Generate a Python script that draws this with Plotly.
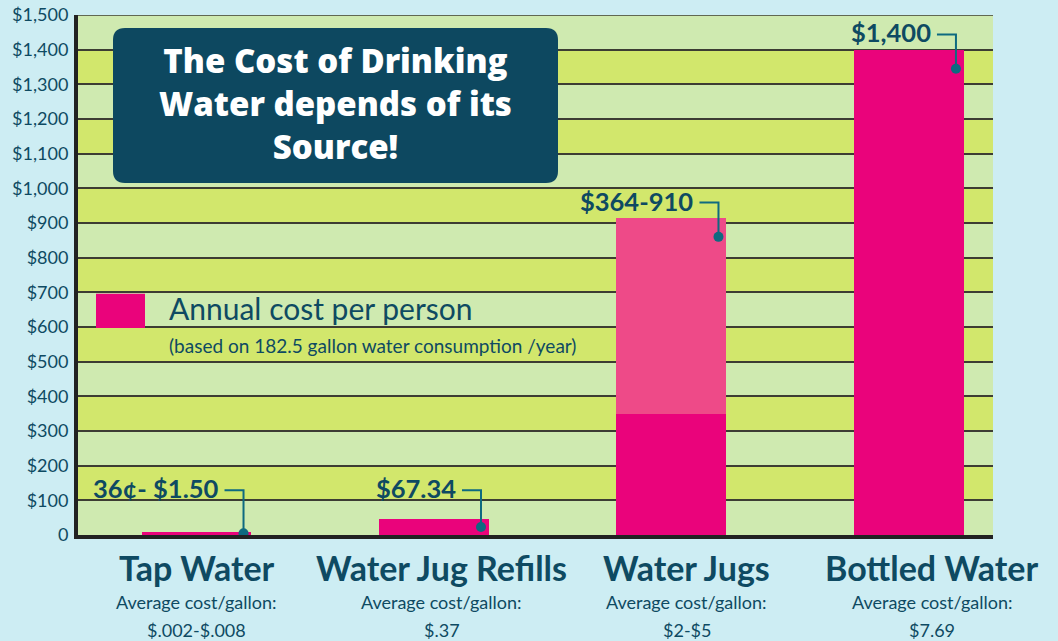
import plotly.graph_objects as go

# ---------------- data ----------------
categories = ["Tap Water", "Water Jug Refills", "Water Jugs", "Bottled Water"]
cost_low = [10, 46, 350, 1400]      # solid bar (annual cost, drawn)
cost_high = [10, 46, 915, 1400]     # top of range (annual cost, drawn)
callout_text = ["36¢- $1.50", "$67.34", "$364-910", "$1,400"]
gallon_cost = ["$.002-$.008", "$.37", "$2-$5", "$7.69"]
y_tickvals = [0, 100, 200, 300, 400, 500, 600, 700, 800, 900, 1000, 1100, 1200, 1300, 1400, 1500]
y_ticktext = ["0", "$100", "$200", "$300", "$400", "$500", "$600", "$700", "$800",
              "$900", "$1,000", "$1,100", "$1,200", "$1,300", "$1,400", "$1,500"]
title_lines = ["The Cost of Drinking", "Water depends of its", "Source!"]

# ---------------- styles ----------------
PAGE_BG = "#cdedf3"
BAND_LIGHT = "#cfeab0"
BAND_BRIGHT = "#d2e76c"
GRID = "#3d3d33"
PINK = "#ea037b"
PINK_LIGHT = "#ee4a88"
DARK = "#0e4a62"
TEAL = "#0e6a80"
FONT = "Lato"

idx = list(range(len(categories)))
BAR_W = 0.463
DOT_DX = 0.198
SEG = 0.08
LABEL_SPREAD = 1.0325

fig = go.Figure()

fig.add_trace(go.Bar(x=idx, y=cost_low, width=BAR_W, marker=dict(color=PINK, line=dict(width=0)),
                     hoverinfo="skip", showlegend=False))
fig.add_trace(go.Bar(x=idx, y=[h - l for h, l in zip(cost_high, cost_low)], width=BAR_W,
                     marker=dict(color=PINK_LIGHT, line=dict(width=0)),
                     hoverinfo="skip", showlegend=False))

shapes = []
# alternating background bands
for v in range(100, 1500, 200):
    shapes.append(dict(type="rect", xref="paper", yref="y", x0=0, x1=1, y0=v, y1=v + 100,
                       fillcolor=BAND_BRIGHT, line=dict(width=0), layer="below"))
# top line
shapes.append(dict(type="line", xref="paper", yref="y", x0=0, x1=1, y0=1500, y1=1500,
                   line=dict(color=GRID, width=1.5)))

# title box (rounded rectangle in paper coords)
PW, PH = 915.0, 520.0
bx0, bx1 = 35 / PW, 480 / PW
by0, by1 = 352 / PH, 507 / PH
rx, ry = 12 / PW, 12 / PH
path = (f"M {bx0+rx},{by1} L {bx1-rx},{by1} Q {bx1},{by1} {bx1},{by1-ry} "
        f"L {bx1},{by0+ry} Q {bx1},{by0} {bx1-rx},{by0} "
        f"L {bx0+rx},{by0} Q {bx0},{by0} {bx0},{by0+ry} "
        f"L {bx0},{by1-ry} Q {bx0},{by1} {bx0+rx},{by1} Z")
shapes.append(dict(type="path", xref="paper", yref="paper", path=path,
                   fillcolor="#0d4860", line=dict(width=0), layer="above"))

# legend square
shapes.append(dict(type="rect", xref="paper", yref="y", x0=18 / PW, x1=67 / PW, y0=597, y1=696,
                   fillcolor=PINK, line=dict(width=0), layer="above"))

annotations = []
annotations.append(dict(xref="paper", yref="paper", x=(bx0 + bx1) / 2, y=(by0 + by1) / 2,
                        yshift=2, text="<br>".join(title_lines),
                        showarrow=False, xanchor="center", yanchor="middle", align="center",
                        font=dict(family="Open Sans", size=33, color="white", weight=800)))
annotations.append(dict(xref="paper", yref="paper", x=89 / PW, y=227 / PH,
                        text="Annual cost per person", showarrow=False,
                        xanchor="left", yanchor="middle",
                        font=dict(family=FONT, size=30, color=DARK)))
annotations.append(dict(xref="paper", yref="paper", x=89 / PW, y=190 / PH,
                        text="(based on 182.5 gallon water consumption /year)", showarrow=False,
                        xanchor="left", yanchor="middle",
                        font=dict(family=FONT, size=19, color=DARK)))

# callouts
for i in idx:
    top = cost_high[i]
    ly = max(top, 85) + 44
    dy = top - min(top / 2, 55)
    xd = i + DOT_DX
    fig.add_trace(go.Scatter(x=[xd - SEG, xd, xd], y=[ly, ly, dy], mode="lines",
                             line=dict(color=TEAL, width=2), hoverinfo="skip", showlegend=False))
    fig.add_trace(go.Scatter(x=[xd], y=[dy], mode="markers",
                             marker=dict(color=TEAL, size=10), hoverinfo="skip", showlegend=False))
    annotations.append(dict(xref="x", yref="y", x=xd - SEG, y=ly, text=f"<b>{callout_text[i]}</b>",
                            showarrow=False, xanchor="right", yanchor="middle", xshift=-4, yshift=2,
                            font=dict(family=FONT, size=25.5, color=DARK)))

# category labels
for i in idx:
    lx = i * LABEL_SPREAD
    annotations.append(dict(xref="x", yref="paper", x=lx, y=0, yshift=-32,
                            text=f"<b>{categories[i]}</b>", showarrow=False,
                            xanchor="center", yanchor="middle",
                            font=dict(family=FONT, size=34, color=DARK, weight=900)))
    annotations.append(dict(xref="x", yref="paper", x=lx, y=0, yshift=-67,
                            text="Average cost/gallon:", showarrow=False,
                            xanchor="center", yanchor="middle",
                            font=dict(family=FONT, size=18, color=DARK)))
    annotations.append(dict(xref="x", yref="paper", x=lx, y=0, yshift=-95,
                            text=gallon_cost[i], showarrow=False,
                            xanchor="center", yanchor="middle",
                            font=dict(family=FONT, size=18, color=DARK)))

fig.update_layout(
    width=1058, height=641,
    margin=dict(l=78, r=65, t=15, b=106, autoexpand=False),
    paper_bgcolor=PAGE_BG, plot_bgcolor=BAND_LIGHT,
    barmode="stack", bargap=0,
    shapes=shapes, annotations=annotations,
    xaxis=dict(range=[-0.499, 3.354], showgrid=False, zeroline=False, showticklabels=False,
               showline=True, linecolor="#222222", linewidth=4, ticks="", fixedrange=True),
    yaxis=dict(range=[0, 1500], tickvals=y_tickvals, ticktext=y_ticktext,
               tickfont=dict(family=FONT, size=18, color=DARK), ticks="", ticklabelstandoff=2,
               showgrid=True, gridcolor=GRID, gridwidth=1.5, zeroline=False,
               showline=True, linecolor="#222222", linewidth=4, fixedrange=True),
    showlegend=False,
)

fig.write_html("out.html", config={"displayModeBar": False},
               post_script="document.body.style.margin='0';document.body.style.background='#cdedf3';")
